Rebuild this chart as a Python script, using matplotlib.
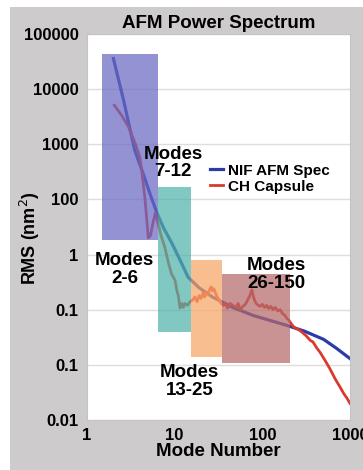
import matplotlib.pyplot as plt
from matplotlib.patches import Rectangle

# NIF AFM spec curve
nif_modes = [2.0, 2.6, 3.5, 4.35, 5.2, 6.3, 7.5, 9.3, 11.5, 14.2, 19, 27, 46, 78, 190, 300, 500, 700, 1000]
nif_rms = [36000, 6500, 785, 300, 130, 56, 30, 16, 8.0, 3.9, 2.5, 1.7, 1.1, 0.79, 0.52, 0.41, 0.29, 0.2, 0.13]

# CH capsule measured spectrum
ch_modes = [2.05, 2.5, 2.96, 3.5, 4.0, 4.2, 4.6, 5.0, 5.3, 5.6, 6.0, 6.4, 7.0, 7.7, 8.5, 9.2,
            10.1, 10.6, 11.0, 11.5, 12.1, 12.6, 13.1, 14, 15, 16, 17, 18, 19, 20, 21, 22, 23,
            24, 25, 26, 27, 28, 30, 32, 34, 36, 38, 40, 43, 46, 50, 53, 56, 60, 64, 68, 72,
            76, 80, 85, 90, 95, 100, 106, 112, 118, 125, 132, 140, 150, 160, 170, 180, 190,
            200, 215, 230, 250, 268, 290, 320, 350, 378, 420, 454, 520, 590, 680, 767, 850,
            922, 1000]
ch_rms = [5100, 3300, 2100, 1100, 590, 340, 98, 20, 22, 35, 56, 39, 22, 13.8, 7, 4.5,
          3.4, 2.2, 1.8, 1.07, 1.3, 1.1, 1.3, 1.2, 1.4, 1.5, 1.7, 1.4, 1.8, 1.6, 2.0, 1.7, 2.1,
          1.9, 2.3, 2.6, 2.2, 2.4, 1.8, 1.5, 1.3, 1.2, 1.3, 1.07, 1.3, 1.2, 1.1, 1.3, 1.0, 1.15,
          1.25, 1.5, 1.8, 2.3, 1.6, 1.3, 1.2, 1.15, 1.25, 1.1, 1.2, 1.05, 1.15, 1.0, 1.1, 0.95,
          1.0, 0.85, 0.8, 0.7, 0.65, 0.55, 0.48, 0.45, 0.42, 0.38, 0.33, 0.28, 0.26, 0.2, 0.17,
          0.12, 0.085, 0.055, 0.04, 0.03, 0.025, 0.02]

# highlighted mode bands: (mode start, mode end, rms low, rms high)
band_x0 = [1.5, 6.4, 15.3, 35]
band_x1 = [6.4, 15.3, 35, 206]
band_lo = [18, 0.4, 0.14, 0.108]
band_hi = [43000, 170, 7.9, 4.5]
band_colors = ["#6a6ac4", "#4fb3a9", "#f8a666", "#b46a6a"]

band_labels = ["Modes\n2-6", "Modes\n7-12", "Modes\n13-25", "Modes\n26-150"]
label_x = [2.7, 9.6, 14.9, 143]
label_y = [5.3, 460, 0.05, 4.4]

y_ticks = [1e5, 1e4, 1e3, 1e2, 1e1, 1e0, 1e-1, 1e-2]
y_ticklabels = ["100000", "10000", "1000", "100", "1", "0.1", "0.1", "0.01"]
x_ticks = [1, 10, 100, 1000]
x_ticklabels = ["1", "10", "100", "1000"]

plt.rcParams["font.family"] = ["Liberation Sans", "DejaVu Sans"]

fig = plt.figure(figsize=(3.63, 4.70), dpi=100)
fig.patch.set_facecolor("white")
fig.patches.append(Rectangle((10 / 363, 0), 1, 463 / 470, transform=fig.transFigure,
                             facecolor="#cdcbcb", edgecolor="none", zorder=-10))

ax = fig.add_axes([87 / 363, 50 / 470, 263 / 363, 386 / 470])
ax.set_xscale("log")
ax.set_yscale("log")
ax.set_xlim(1, 1000)
ax.set_ylim(0.01, 100000)

ax.plot(nif_modes, nif_rms, color="#2a3ca8", lw=2.3, label="NIF AFM Spec", zorder=2)
ax.plot(ch_modes, ch_rms, color="#d83a2e", lw=2.0, label="CH Capsule", zorder=2)

for x0, x1, lo, hi, c in zip(band_x0, band_x1, band_lo, band_hi, band_colors):
    ax.add_patch(Rectangle((x0, lo), x1 - x0, hi - lo, facecolor=c, alpha=0.72,
                           edgecolor="none", zorder=3))

for txt, lx, ly in zip(band_labels, label_x, label_y):
    ax.text(lx, ly, txt, ha="center", va="center", fontsize=13.5, fontweight="bold",
            linespacing=1.05, zorder=5)

ax.set_yticks(y_ticks)
ax.set_yticklabels(y_ticklabels)
ax.set_xticks(x_ticks)
ax.set_xticklabels(x_ticklabels)
ax.minorticks_off()
ax.tick_params(length=0, labelsize=12, pad=6)
for lab in ax.get_xticklabels() + ax.get_yticklabels():
    lab.set_fontweight("bold")
ax.grid(axis="y", color="#dddddd", lw=1)
ax.set_axisbelow(True)
for s in ax.spines.values():
    s.set_color("#c4c4c4")

ax.set_title("AFM Power Spectrum", fontsize=13.5, fontweight="bold", pad=4)
ax.set_xlabel("Mode Number", fontsize=13.5, fontweight="bold", labelpad=0)
ax.set_ylabel("RMS (nm$^2$)", fontsize=13, fontweight="bold")
ax.yaxis.set_label_coords(-0.17, 0.47)

leg = ax.legend(loc="upper right", bbox_to_anchor=(0.975, 0.7), frameon=False,
                prop={"size": 11, "weight": "bold"}, handlelength=0.9,
                handletextpad=0.3, labelspacing=0.15)

fig.savefig("out.png", dpi=100, facecolor=fig.get_facecolor())
